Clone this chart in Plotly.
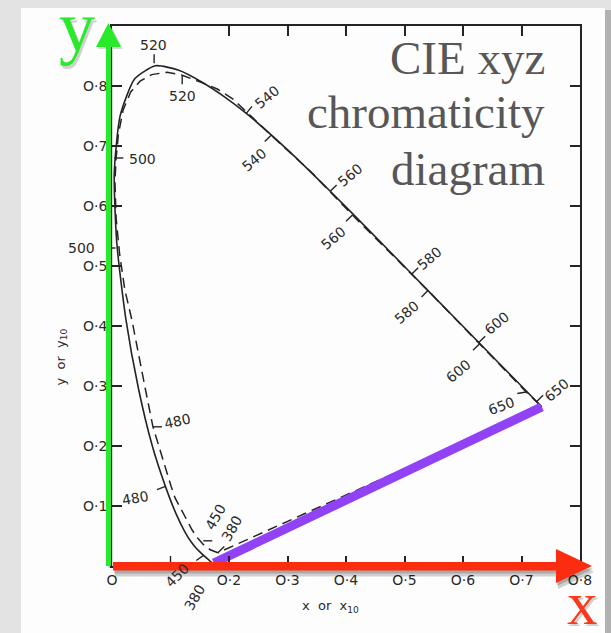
import math
import plotly.graph_objects as go

# ---------------- data ----------------
# Spectral locus, 2-degree observer (solid curve), 380 nm -> 700 nm
solid_x = [0.1741, 0.1714, 0.1644, 0.1566, 0.1440, 0.1355, 0.1241, 0.1096, 0.0913, 0.0687,
           0.0454, 0.0235, 0.0082, 0.0039, 0.0139, 0.0389, 0.0743, 0.1142, 0.1547, 0.1929,
           0.2296, 0.3016, 0.3731, 0.4441, 0.5125, 0.5752, 0.6270, 0.6915, 0.7190, 0.7347]
solid_y = [0.0050, 0.0051, 0.0109, 0.0177, 0.0297, 0.0399, 0.0578, 0.0868, 0.1327, 0.2007,
           0.2950, 0.4127, 0.5384, 0.6548, 0.7502, 0.8120, 0.8338, 0.8262, 0.8059, 0.7816,
           0.7543, 0.6923, 0.6245, 0.5547, 0.4866, 0.4242, 0.3725, 0.3083, 0.2809, 0.2653]

# Spectral locus, 10-degree observer (dashed curve)
dashed_x = [0.181, 0.168, 0.156, 0.146, 0.137, 0.122, 0.108, 0.101, 0.091, 0.080,
            0.070, 0.057, 0.046, 0.034, 0.022, 0.013, 0.007, 0.005, 0.007, 0.011,
            0.019, 0.032, 0.048, 0.068, 0.094, 0.120, 0.150, 0.180, 0.207, 0.235,
            0.272, 0.340, 0.411, 0.540, 0.628, 0.690, 0.708, 0.7347]
dashed_y = [0.022, 0.027, 0.036, 0.047, 0.060, 0.087, 0.113, 0.133, 0.165, 0.200,
            0.232, 0.295, 0.350, 0.410, 0.460, 0.520, 0.580, 0.640, 0.680, 0.720,
            0.760, 0.790, 0.808, 0.819, 0.823, 0.818, 0.807, 0.795, 0.778, 0.752,
            0.718, 0.657, 0.585, 0.459, 0.370, 0.308, 0.290, 0.2653]

# Wavelength marks (nm)
solid_mark_text = ["520", "540", "560", "580", "600", "650", "500", "480", "450", "380"]
solid_mark_x = [0.072, 0.2296, 0.3731, 0.5125, 0.6270, 0.7260, 0.006, 0.0913, 0.1566, 0.1741]
solid_mark_y = [0.838, 0.7543, 0.6245, 0.4866, 0.3725, 0.2740, 0.530, 0.1327, 0.0177, 0.0050]

dashed_mark_text = ["520", "540", "560", "580", "600", "650", "500", "480", "450", "380"]
dashed_mark_x = [0.120, 0.272, 0.411, 0.540, 0.628, 0.708, 0.004, 0.070, 0.156, 0.181]
dashed_mark_y = [0.818, 0.718, 0.585, 0.459, 0.370, 0.290, 0.680, 0.232, 0.042, 0.022]

# Axis ticks
x_tickvals = [0.0, 0.2, 0.3, 0.4, 0.5, 0.6, 0.7, 0.8]
x_ticktext = ["O", "O·2", "O·3", "O·4", "O·5", "O·6", "O·7", "O·8"]
x_minor_tick = [0.1]
y_tickvals = [0.1, 0.2, 0.3, 0.4, 0.5, 0.6, 0.7, 0.8]
y_ticktext = ["O·1", "O·2", "O·3", "O·4", "O·5", "O·6", "O·7", "O·8"]

title_lines = ["CIE xyz", "chromaticity", "diagram"]

# ---------------- layout constants ----------------
W, H = 611, 633
ML, MR, MT, MB = 112, 31, 26, 67
XR = [0, 0.8]
YR = [0, 0.9]
PW = W - ML - MR
PH = H - MT - MB
SX = PW / (XR[1] - XR[0])   # px per data unit
SY = PH / (YR[1] - YR[0])

INK = "#242424"
LBL_FONT = dict(family="DejaVu Sans", size=14, color="#2a2a2a")

# mark styles: (tick direction deg, label dx px, label dy px (down +), text angle)
solid_style = [(90, -1, -18, 0), (51, 21, -16, -40), (45, 20, -16, -40), (45, 18, -16, -40),
               (45, 18, -20, -40), (45, 20, -12, -40), (180, -34, 0, 0), (201, -30, 12, -10),
               (215, -26, 20, -45), (240, -19, 34, -60)]
dashed_style = [(270, 0, 21, 0), (225, -17, 25, -40), (225, -19, 23, -40), (225, -21, 21, -40),
                (225, -21, 27, -40), (190, -25, 14, -20), (0, 28, 1, 0), (0, 25, -6, -12),
                (0, 12, -24, -60), (45, 14, -25, -60)]
TICK_LEN = 9


def P(px, py):
    """pixel position on the page -> paper coordinates"""
    return ((px - ML) / PW, (H - MB - py) / PH)


def poly(pts):
    s = ""
    for i, (px, py) in enumerate(pts):
        a, b = P(px, py)
        s += ("M" if i == 0 else "L") + f"{a:.5f},{b:.5f} "
    return s + "Z"


fig = go.Figure()

# solid locus
fig.add_trace(go.Scatter(x=solid_x, y=solid_y, mode="lines",
                         line=dict(color=INK, width=1.6, shape="spline", smoothing=0.6),
                         hoverinfo="skip"))
# dashed locus closed by its purple line
fig.add_trace(go.Scatter(x=dashed_x + [dashed_x[0]], y=dashed_y + [dashed_y[0]], mode="lines",
                         line=dict(color=INK, width=1.5, dash="10px,6px", shape="linear"),
                         hoverinfo="skip"))

# wavelength tick marks and labels
tx, ty = [], []
annotations = []
for texts, xs, ys, styles in ((solid_mark_text, solid_mark_x, solid_mark_y, solid_style),
                              (dashed_mark_text, dashed_mark_x, dashed_mark_y, dashed_style)):
    for t, x0, y0, (ang, dx, dy, ta) in zip(texts, xs, ys, styles):
        a = math.radians(ang)
        tx += [x0, x0 + TICK_LEN * math.cos(a) / SX, None]
        ty += [y0, y0 + TICK_LEN * math.sin(a) / SY, None]
        annotations.append(dict(x=x0, y=y0, xref="x", yref="y", text=t, showarrow=False,
                                xshift=dx, yshift=-dy, textangle=ta, font=LBL_FONT))
# the unlabelled 0.1 tick on the x axis (its label is hidden under "450")
for v in x_minor_tick:
    tx += [v, v, None]
    ty += [YR[0], YR[0] + 10 / SY, None]
fig.add_trace(go.Scatter(x=tx, y=ty, mode="lines", line=dict(color=INK, width=1.4),
                         hoverinfo="skip"))

# purple line (overlay) joining the ends of the solid locus
fig.add_trace(go.Scatter(x=[solid_x[0], solid_x[-1]], y=[solid_y[0], solid_y[-1]], mode="lines",
                         line=dict(color="#9142f5", width=9), hoverinfo="skip"))

shapes = []
# page (scanned sheet) with shadow
pa, pb = P(24, 10), P(611, 650)
shapes.append(dict(type="rect", xref="paper", yref="paper", x0=pa[0], y0=pb[1], x1=pb[0], y1=pa[1],
                   fillcolor="rgba(0,0,0,0.22)", line=dict(width=0), layer="below"))
pa, pb = P(21, 8), P(605, 650)
shapes.append(dict(type="rect", xref="paper", yref="paper", x0=pa[0], y0=pb[1], x1=pb[0], y1=pa[1],
                   fillcolor="#fdfdfd", line=dict(width=0), layer="below"))

red_pts = [(113, 562), (556, 562), (556, 549), (592, 566), (556, 583), (556, 570.5), (113, 570.5)]
green_pts = [(106, 566), (106, 47), (96, 47), (108.5, 23), (121, 47), (111, 47), (111, 566)]
# shadows
shapes.append(dict(type="path", xref="paper", yref="paper",
                   path=poly([(x + 2, y + 6) for x, y in red_pts]),
                   fillcolor="rgba(0,0,0,0.18)", line=dict(width=0), layer="above"))
shapes.append(dict(type="path", xref="paper", yref="paper",
                   path=poly([(x + 1, y + 3) for x, y in red_pts]),
                   fillcolor="rgba(0,0,0,0.18)", line=dict(width=0), layer="above"))
shapes.append(dict(type="path", xref="paper", yref="paper",
                   path=poly([(x + 2, y + 2) for x, y in green_pts]),
                   fillcolor="rgba(0,0,0,0.15)", line=dict(width=0), layer="above"))
shapes.append(dict(type="path", xref="paper", yref="paper", path=poly(red_pts),
                   fillcolor="#fb2c10", line=dict(width=0), layer="above"))
shapes.append(dict(type="path", xref="paper", yref="paper", path=poly(green_pts),
                   fillcolor="#2ae82a", line=dict(width=0), layer="above"))

# title lines
for txt, py in zip(title_lines, (58, 112, 169)):
    a, b = P(547, py)
    annotations.append(dict(x=a, y=b, xref="paper", yref="paper", text=txt, showarrow=False,
                            xanchor="right", yanchor="middle",
                            font=dict(family="Liberation Serif", size=47, color="#575757")))

# axis letters
for txt, (px, py), col, sz in (("y", (77, 27), "#2ae82a", 72), ("x", (582, 603), "#f93a1c", 61)):
    a, b = P(px + 2, py + 3)
    annotations.append(dict(x=a, y=b, xref="paper", yref="paper", text=txt, showarrow=False,
                            xanchor="center", yanchor="middle",
                            font=dict(family="Liberation Serif", size=sz, color="rgba(0,0,0,0.18)")))
    a, b = P(px, py)
    annotations.append(dict(x=a, y=b, xref="paper", yref="paper", text=txt, showarrow=False,
                            xanchor="center", yanchor="middle",
                            font=dict(family="Liberation Serif", size=sz, color=col)))

# axis titles
a, b = P(330, 617)
annotations.append(dict(x=a, y=b, xref="paper", yref="paper", text="x  or  x<sub>10</sub>",
                        showarrow=False, font=dict(family="DejaVu Sans", size=13, color="#2a2a2a")))
a, b = P(50, 357)
annotations.append(dict(x=a, y=b, xref="paper", yref="paper", text="y  or  y<sub>10</sub>",
                        showarrow=False, textangle=-90,
                        font=dict(family="DejaVu Sans", size=13, color="#2a2a2a")))

axis_common = dict(showgrid=False, zeroline=False, showline=True, linecolor=INK, linewidth=1.5,
                   mirror="ticks", ticks="inside", ticklen=10, tickwidth=1.5, tickcolor=INK,
                   tickfont=LBL_FONT, fixedrange=True)
fig.update_xaxes(range=XR, tickvals=x_tickvals, ticktext=x_ticktext, tickangle=0, **axis_common)
fig.update_yaxes(range=YR, tickvals=y_tickvals, ticktext=y_ticktext, **axis_common)

fig.update_layout(width=W, height=H, margin=dict(l=ML, r=MR, t=MT, b=MB, pad=0),
                  paper_bgcolor="#e3e3e3", plot_bgcolor="rgba(0,0,0,0)", showlegend=False,
                  shapes=shapes, annotations=annotations)

fig.write_html("out.html", config={"displayModeBar": False},
               post_script="document.body.style.margin='0px';")
